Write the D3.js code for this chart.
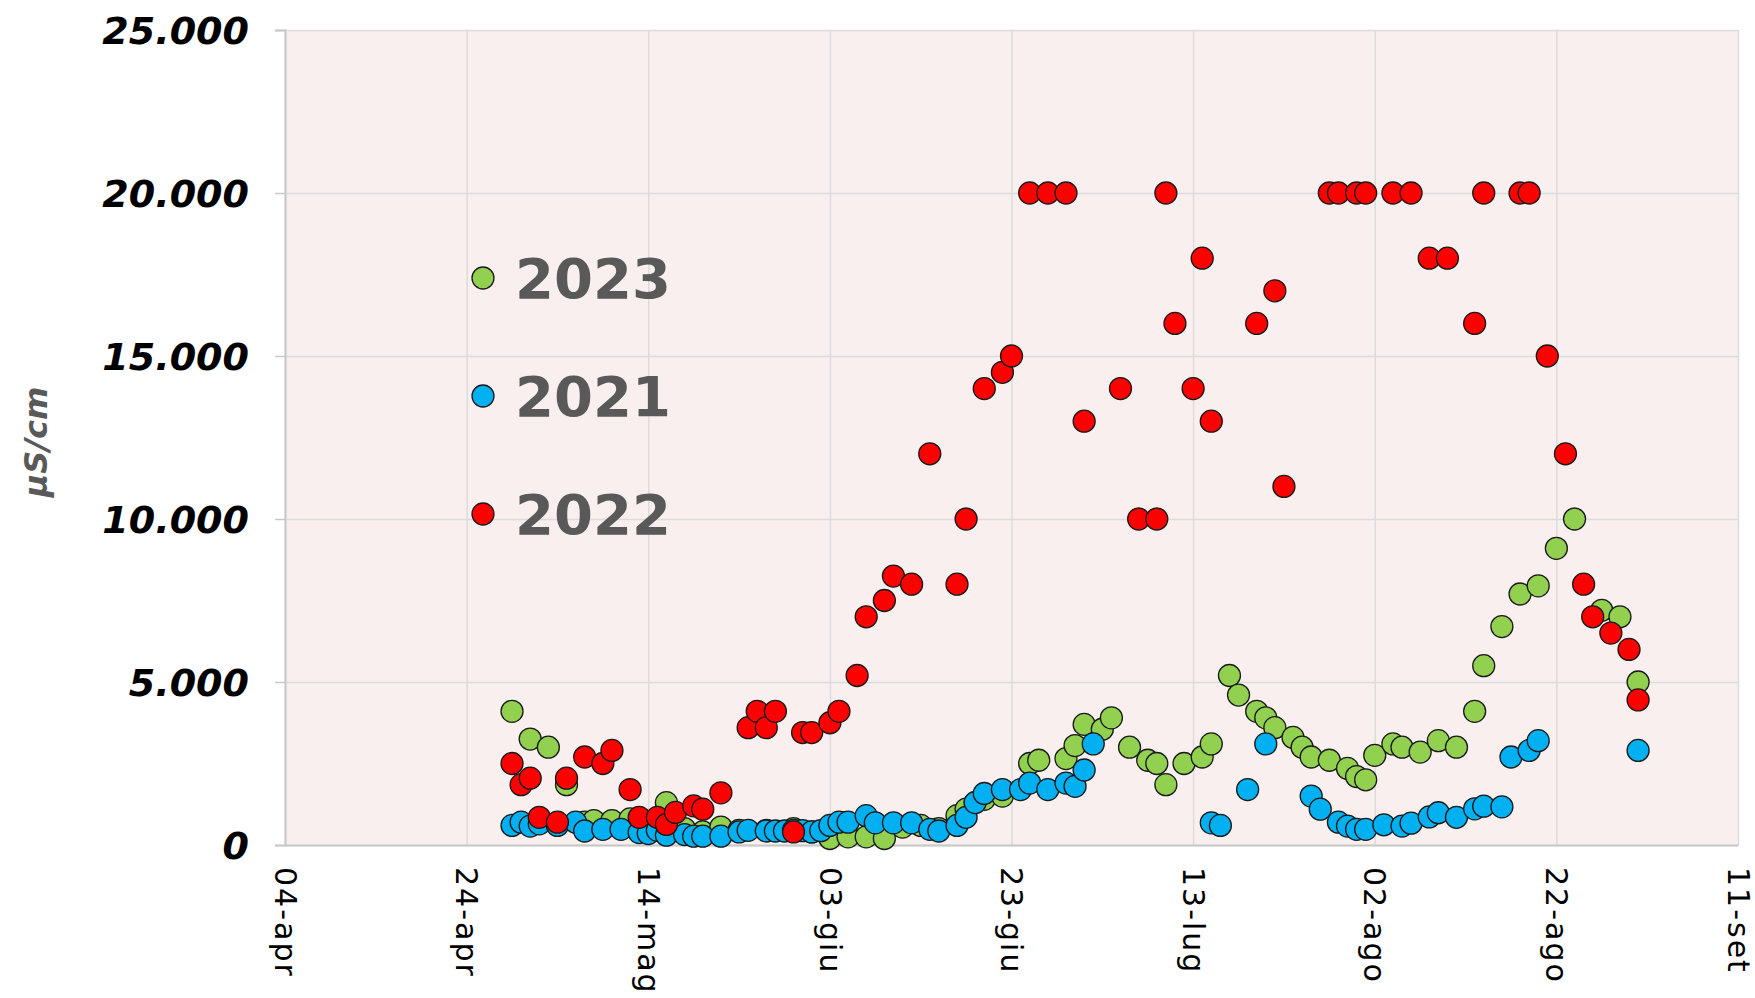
<!DOCTYPE html>
<html>
<head>
<meta charset="utf-8">
<script src="https://cdn.jsdelivr.net/npm/d3@7"></script>
<style>
  body { margin: 0; background: #fff; }
  svg { display: block; }
</style>
</head>
<body>
<script>
var width = 1755;
var height = 998;

// series in drawing order (2023 below, 2022 on top)
var seriesNames = ["2023", "2021", "2022"];
var seriesColors = ["#92d050", "#00b0f0", "#ff0000"];

var dates2023 = ["04-29","05-01","05-03","05-05","05-07","05-08","05-10","05-12","05-14","05-16",
  "05-18","05-20","05-22","05-24","05-27","05-30","06-01","06-03","06-05","06-07",
  "06-09","06-11","06-13","06-15","06-17","06-18","06-19","06-20","06-22","06-25",
  "06-26","06-29","06-30","07-01","07-03","07-04","07-06","07-08","07-09","07-10",
  "07-12","07-14","07-15","07-17","07-18","07-20","07-21","07-22","07-24","07-25",
  "07-26","07-28","07-30","07-31","08-01","08-02","08-04","08-05","08-07","08-09",
  "08-11","08-13","08-14","08-16","08-18","08-20","08-22","08-24","08-27","08-29",
  "08-31"];
var values2023 = [4100,3250,3000,1850,700,750,750,800,650,1300,
  500,400,550,450,450,500,400,200,250,250,
  200,550,600,500,900,1100,1300,1400,1500,2500,
  2600,2650,3050,3700,3550,3900,3000,2600,2500,1850,
  2500,2700,3100,5200,4600,4100,3900,3600,3300,3000,
  2700,2600,2350,2100,2000,2750,3100,3000,2850,3200,
  3000,4100,5500,6700,7700,7950,9100,10000,7200,7000,
  5000];

var dates2021 = ["04-29","04-30","05-01","05-02","05-04","05-06","05-07","05-09","05-11","05-13",
  "05-14","05-15","05-16","05-18","05-19","05-20","05-22","05-24","05-25","05-27",
  "05-28","05-29","05-30","05-31","06-01","06-02","06-03","06-04","06-05","06-07",
  "06-08","06-10","06-12","06-14","06-15","06-17","06-18","06-19","06-20","06-22",
  "06-24","06-25","06-27","06-29","06-30","07-01","07-02","07-15","07-16","07-19",
  "07-21","07-26","07-27","07-29","07-30","07-31","08-01","08-03","08-05","08-06",
  "08-08","08-09","08-11","08-13","08-14","08-16","08-17","08-19","08-20","08-31"];
var values2021 = [600,700,580,650,600,700,430,480,480,380,
  350,450,300,320,270,270,270,400,450,430,
  430,430,450,440,400,440,600,700,700,900,
  680,680,680,480,430,600,850,1300,1580,1700,
  1700,1900,1700,1900,1800,2300,3100,680,600,1700,
  3100,1500,1100,700,580,480,480,620,580,670,
  860,990,850,1110,1190,1170,2700,2900,3200,2900];

var dates2022 = ["04-29","04-30","05-01","05-02","05-04","05-05","05-07","05-09","05-10","05-12",
  "05-13","05-15","05-16","05-17","05-19","05-20","05-22","05-25","05-26","05-27",
  "05-28","05-30","05-31","06-01","06-03","06-04","06-06","06-07","06-09","06-10",
  "06-12","06-14","06-17","06-18","06-20","06-22","06-23","06-25","06-27","06-29",
  "07-01","07-05","07-07","07-09","07-10","07-11","07-13","07-14","07-15","07-20",
  "07-22","07-23","07-28","07-29","07-31","08-01","08-04","08-06","08-08","08-10",
  "08-13","08-14","08-18","08-19","08-21","08-23","08-25","08-26","08-28","08-30",
  "08-31"];
var values2022 = [2500,1850,2050,850,700,2050,2700,2500,2900,1700,
  850,850,630,1000,1200,1100,1600,3600,4100,3600,
  4100,400,3450,3450,3750,4100,5200,7000,7500,8250,
  8000,12000,8000,10000,14000,14500,15000,20000,20000,20000,
  13000,14000,10000,10000,20000,16000,14000,18000,13000,16000,
  17000,11000,20000,20000,20000,20000,20000,20000,18000,18000,
  16000,20000,20000,20000,15000,12000,8000,7000,6500,6000,
  4450];

var xTickDates = ["04-04","04-24","05-14","06-03","06-23","07-13","08-02","08-22","09-11"];
var yTicks = [0, 5000, 10000, 15000, 20000, 25000];

var parseDay = d3.timeParse("%m-%d");
var itLocale = d3.timeFormatLocale({
  dateTime: "%A %e %B %Y, %X", date: "%d/%m/%Y", time: "%H:%M:%S", periods: ["AM", "PM"],
  days: ["domenica","lunedì","martedì","mercoledì","giovedì","venerdì","sabato"],
  shortDays: ["dom","lun","mar","mer","gio","ven","sab"],
  months: ["gennaio","febbraio","marzo","aprile","maggio","giugno","luglio","agosto","settembre","ottobre","novembre","dicembre"],
  shortMonths: ["gen","feb","mar","apr","mag","giu","lug","ago","set","ott","nov","dic"]
});
var fmtDay = itLocale.format("%d-%b");
var fmtNum = d3.formatLocale({decimal: ",", thousands: ".", grouping: [3], currency: ["€", ""]}).format(",");

var plotLeft = 285, plotRight = 1738, plotTop = 30, plotBottom = 845;

var x = d3.scaleTime()
  .domain([parseDay(xTickDates[0]), parseDay(xTickDates[xTickDates.length - 1])])
  .range([plotLeft, plotRight]);
var y = d3.scaleLinear().domain([0, 25000]).range([plotBottom, plotTop]);

var svg = d3.select("body").append("svg")
  .attr("width", width).attr("height", height)
  .style("font-family", "'DejaVu Sans', Verdana, sans-serif");

svg.append("rect")
  .attr("x", plotLeft).attr("y", plotTop)
  .attr("width", plotRight - plotLeft).attr("height", plotBottom - plotTop)
  .attr("fill", "#f9efef");

// grid lines
var xGrid = svg.append("g")
  .attr("transform", "translate(0," + plotBottom + ")")
  .call(d3.axisBottom(x).tickValues(xTickDates.map(parseDay)).tickSize(-(plotBottom - plotTop)).tickFormat(""));
var yGrid = svg.append("g")
  .attr("transform", "translate(" + plotLeft + ",0)")
  .call(d3.axisLeft(y).tickValues(yTicks).tickSize(-(plotRight - plotLeft)).tickFormat(""));
[xGrid, yGrid].forEach(function(g) {
  g.select(".domain").remove();
  g.selectAll("line").attr("stroke", "#dcdcdc").attr("stroke-width", 1.5);
});

// y axis with labels
var yAxis = svg.append("g")
  .attr("transform", "translate(" + plotLeft + ",0)")
  .call(d3.axisLeft(y).tickValues(yTicks).tickSize(10).tickPadding(26).tickFormat(fmtNum));
yAxis.select(".domain").attr("stroke", "#c8c8c8").attr("stroke-width", 2);
yAxis.selectAll("line").attr("stroke", "#c8c8c8").attr("stroke-width", 1.5);
yAxis.selectAll("text")
  .attr("font-family", "'DejaVu Sans', Verdana, sans-serif")
  .attr("font-size", 38).attr("font-weight", "bold").attr("font-style", "italic")
  .attr("fill", "#000").attr("dy", "0.36em");

// x axis
var xAxis = svg.append("g")
  .attr("transform", "translate(0," + plotBottom + ")")
  .call(d3.axisBottom(x).tickValues(xTickDates.map(parseDay)).tickSize(0).tickFormat(fmtDay));
xAxis.select(".domain").attr("stroke", "#c8c8c8").attr("stroke-width", 2);
xAxis.selectAll("text")
  .attr("font-family", "'DejaVu Sans', Verdana, sans-serif")
  .attr("font-size", 30).attr("fill", "#000")
  .attr("letter-spacing", 2)
  .attr("text-anchor", "start")
  .attr("transform", "rotate(90)")
  .attr("x", 22).attr("y", 0).attr("dy", "0.36em");

// y axis title
svg.append("text")
  .attr("transform", "translate(47,442) rotate(-90)")
  .attr("text-anchor", "middle")
  .attr("font-size", 32).attr("font-style", "italic").attr("font-weight", "bold")
  .attr("fill", "#595959")
  .text("µS/cm");

// points
var allSeries = [
  {name: seriesNames[0], color: seriesColors[0], dates: dates2023, values: values2023},
  {name: seriesNames[1], color: seriesColors[1], dates: dates2021, values: values2021},
  {name: seriesNames[2], color: seriesColors[2], dates: dates2022, values: values2022}
];

allSeries.forEach(function(s) {
  var pts = s.dates.map(function(d, i) { return {date: parseDay(d), value: s.values[i]}; });
  svg.append("g").selectAll("circle").data(pts).enter().append("circle")
    .attr("cx", function(d) { return x(d.date); })
    .attr("cy", function(d) { return y(d.value); })
    .attr("r", 11)
    .attr("fill", s.color)
    .attr("stroke", "#1a1a1a")
    .attr("stroke-width", 1.3);
});

// legend
var legendY = d3.scaleLinear().domain([0, 1]).range([278, 396]);
var legendOrder = [0, 1, 2];
var legend = svg.append("g").selectAll("g").data(legendOrder).enter().append("g")
  .attr("transform", function(d, i) { return "translate(483," + legendY(i) + ")"; });
legend.append("circle")
  .attr("r", 11)
  .attr("fill", function(d) { return seriesColors[d]; })
  .attr("stroke", "#1a1a1a").attr("stroke-width", 1.3);
legend.append("text")
  .attr("x", 32).attr("dy", "0.36em")
  .attr("font-size", 56).attr("font-weight", "bold")
  .attr("fill", "#595959")
  .text(function(d) { return seriesNames[d]; });
</script>
</body>
</html>
